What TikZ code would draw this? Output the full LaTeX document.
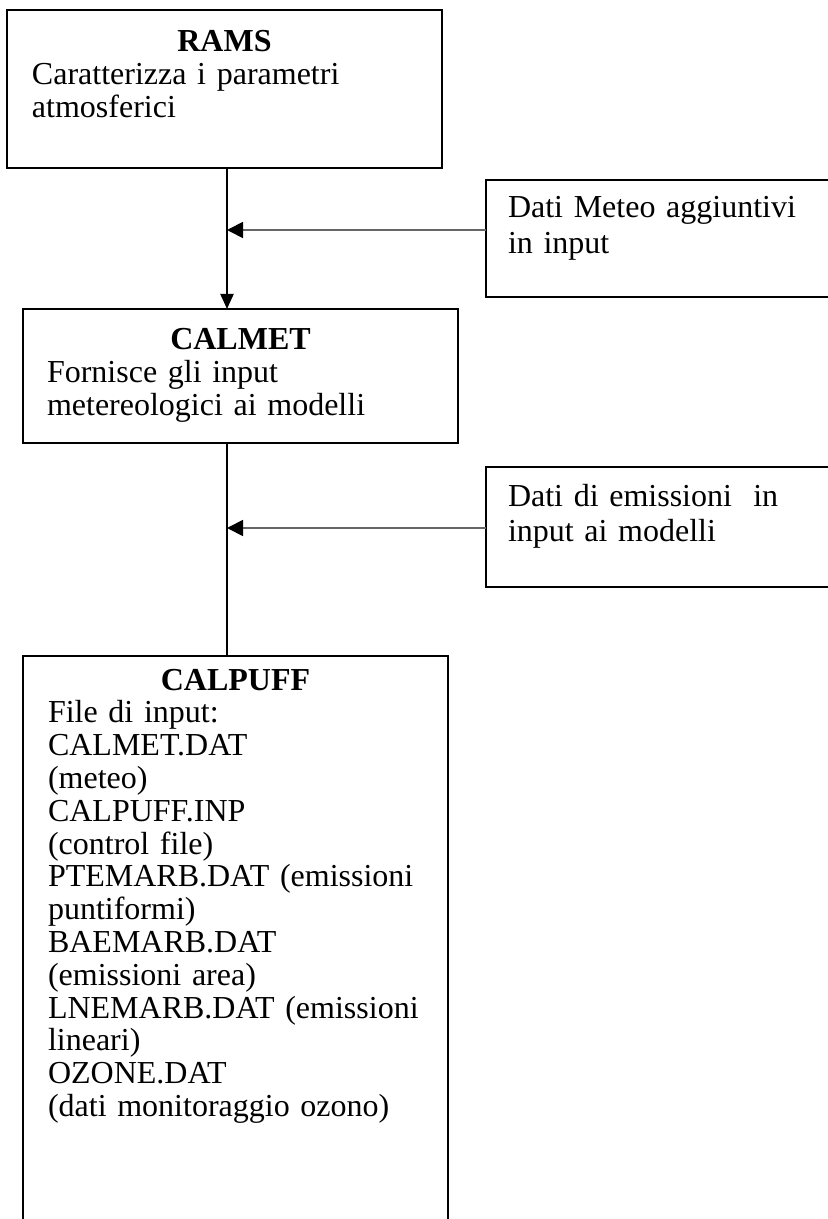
\documentclass[tikz,border=0pt]{standalone}
\usepackage{fontspec}
\setmainfont{Liberation Serif}
\usetikzlibrary{arrows.meta}

\newcommand{\boxtitle}[1]{\makebox[\linewidth]{\textbf{#1}}\\}

\tikzset{
  flowbox/.style={draw, line width=1pt, anchor=north west, outer sep=0pt,
    inner ysep=0pt, inner xsep=12.5pt, align=left,
    font=\fontsize{16pt}{16.4pt}\selectfont},
  sidebox/.style={flowbox, inner xsep=11pt, text width=180pt,
    font=\fontsize{16pt}{17.6pt}\selectfont},
  feed/.style={draw=black!60, line width=0.9pt,
    -{Triangle[width=8pt,length=8pt,color=black]}},
  trunk/.style={line width=1pt}
}

\begin{document}
\begin{tikzpicture}[x=0.5pt,y=-0.5pt]
\useasboundingbox (0,0) rectangle (828,1219);

% main chain of models
\node[flowbox, text width=192.5pt, text height=21pt, text depth=58pt] (rams) at (7,10)
  {\boxtitle{RAMS}Caratterizza i parametri\\atmosferici};
\node[flowbox, inner xsep=12pt, text width=193.5pt, text height=20.5pt, text depth=46.5pt] (calmet) at (23,309)
  {\boxtitle{CALMET}Fornisce gli input\\metereologici ai modelli};
\node[flowbox, text width=187.5pt, text height=17pt, text depth=270pt] (calpuff) at (23,656)
  {\boxtitle{CALPUFF}File di input:\\CALMET.DAT\\(meteo)\\CALPUFF.INP\\(control file)\\
   PTEMARB.DAT (emissioni\\puntiformi)\\BAEMARB.DAT\\(emissioni area)\\
   LNEMARB.DAT (emissioni\\lineari)\\OZONE.DAT\\(dati monitoraggio ozono)};

% side inputs
\node[sidebox, text height=19pt, text depth=39.5pt] (meteo) at (486,180)
  {Dati Meteo aggiuntivi\\in input};
\node[sidebox, text height=19.5pt, text depth=40.5pt] (emis) at (486,467)
  {Dati di emissioni~ in\\input ai modelli};

\coordinate (j1) at (227,230);
\coordinate (j2) at (227,528);

\draw[trunk, -{Triangle[width=6.5pt,length=7.5pt]}] (rams.south -| j1) -- (calmet.north -| j1);
\draw[trunk] (calmet.south -| j2) -- (calpuff.north -| j2);
\draw[feed] (j1 -| meteo.west) -- (j1);
\draw[feed] (j2 -| emis.west) -- (j2);
\end{tikzpicture}
\end{document}
